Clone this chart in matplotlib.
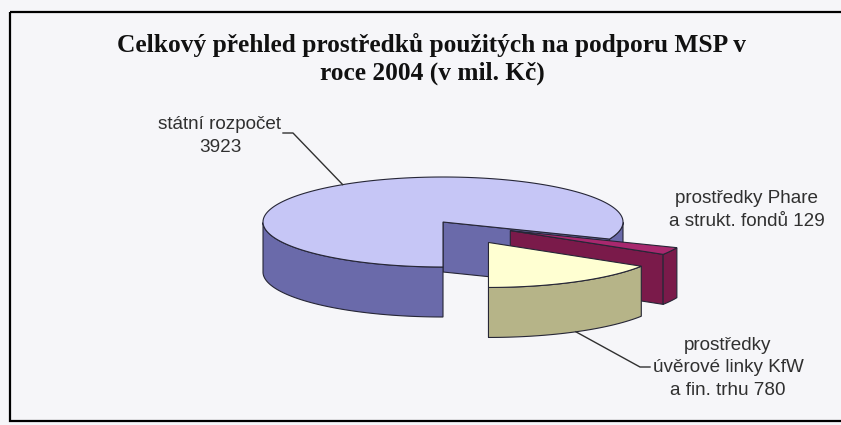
import numpy as np
import matplotlib.pyplot as plt
from matplotlib.patches import Polygon, Rectangle

# data
labels = ["státní rozpočet\n3923",
          "prostředky Phare\na strukt. fondů 129",
          "prostředky\núvěrové linky KfW\na fin. trhu 780"]
values = [3923, 129, 780]
explode = [0.0, 0.42, 0.52]
top_colors = ["#c6c6f6", "#a8286e", "#ffffd2"]
side_colors = ["#6a6aaa", "#7a1a4a", "#b6b488"]

title = "Celkový přehled prostředků použitých na podporu MSP v\nroce 2004 (v mil. Kč)"

# layout of the 3d pie in pixels
CX, CY = 443, 222
RX, RY = 180, 45
DEPTH = 50
START = 270.0
EDGE = "#262636"


def rim(cx, cy, ang, dy=0.0):
    a = np.radians(ang)
    return cx + RX * np.cos(a), cy - RY * np.sin(a) + dy


fig = plt.figure(figsize=(8.41, 4.25), dpi=100)
fig.patch.set_facecolor("#f6f6f9")
ax = fig.add_axes([0, 0, 1, 1])
ax.set_xlim(0, 841)
ax.set_ylim(425, 0)
ax.axis("off")

ax.add_patch(Rectangle((10, 12), 840, 409, fill=False, ec="black", lw=1.6))

fracs = np.array(values) / np.sum(values) * 360.0
hi_angles = START - np.concatenate([[0], np.cumsum(fracs)[:-1]])
lo_angles = hi_angles - fracs

centers = []
for i in range(len(values)):
    lo, hi = lo_angles[i], hi_angles[i]
    mid = np.radians((lo + hi) / 2)
    cx = CX + explode[i] * RX * np.cos(mid)
    cy = CY - explode[i] * RY * np.sin(mid)
    centers.append((cx, cy))

    # radial faces facing the viewer
    for a, normal in [(lo, lo - 90), (hi, hi + 90)]:
        if np.sin(np.radians(normal)) < -1e-6:
            x1, y1 = rim(cx, cy, a)
            face = [(cx, cy), (x1, y1), (x1, y1 + DEPTH), (cx, cy + DEPTH)]
            ax.add_patch(Polygon(face, closed=True, fc=side_colors[i], ec=EDGE, lw=0.8))

    # outer side, front half only
    th = np.linspace(lo, hi, 400)
    front = np.sin(np.radians(th)) <= 0
    runs = []
    cur = []
    for t, f in zip(th, front):
        if f:
            cur.append(t)
        elif cur:
            runs.append(cur)
            cur = []
    if cur:
        runs.append(cur)
    for run in runs:
        run = np.array(run)
        xt, yt = rim(cx, cy, run)
        pts = list(zip(xt, yt)) + list(zip(xt[::-1], yt[::-1] + DEPTH))
        ax.add_patch(Polygon(pts, closed=True, fc=side_colors[i], ec=EDGE, lw=0.8))

    # top face
    xt, yt = rim(cx, cy, th)
    pts = [(cx, cy)] + list(zip(xt, yt))
    ax.add_patch(Polygon(pts, closed=True, fc=top_colors[i], ec=EDGE, lw=0.8))

txt = dict(fontfamily="Liberation Sans", fontsize=13.6, color="#303030",
           ha="center", va="center")

# leader line for big slice (to top rim)
mid0 = (lo_angles[0] + hi_angles[0]) / 2
x0, y0 = rim(*centers[0], mid0)
ax.plot([x0, 293, 283], [y0, 133, 133], color="#303030", lw=1)
ax.text(220, 136, labels[0], linespacing=1.45, **txt)

ax.text(747, 210, labels[1], linespacing=1.5, **txt)

# leader line for third slice (to bottom rim)
mid2 = (lo_angles[2] + hi_angles[2]) / 2
x2, y2 = rim(*centers[2], mid2, DEPTH)
ax.plot([x2, 640, 650], [y2, 367, 367], color="#303030", lw=1)
ax.text(728, 368, labels[2], linespacing=1.43, **txt)

ax.text(432, 59, title, fontfamily="Liberation Serif", fontweight="bold",
        fontsize=18.3, color="#111111", ha="center", va="center", linespacing=1.22)

fig.savefig("out.png", dpi=100, facecolor=fig.get_facecolor())
